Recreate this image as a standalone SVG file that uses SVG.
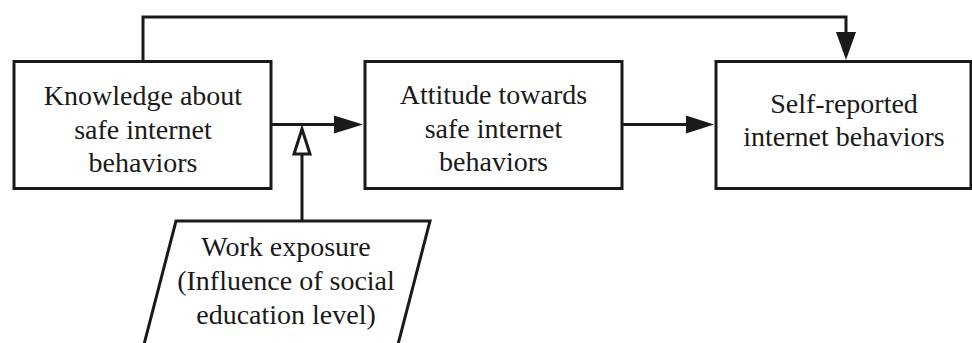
<svg xmlns="http://www.w3.org/2000/svg" width="972" height="343" viewBox="0 0 972 343">
<style>
.box{fill:#fff;stroke:#1a1a1a;stroke-width:3}
.ln{fill:none;stroke:#1a1a1a;stroke-width:3}
.ah{fill:#1a1a1a;stroke:none}
.oh{fill:#fff;stroke:#1a1a1a;stroke-width:3;stroke-linejoin:miter}
text{font-family:"Liberation Serif","Times New Roman",serif;font-size:28px;fill:#1a1a1a;text-anchor:middle}
</style>
<rect width="972" height="343" fill="#fff"/>
<g id="connectors">
<path class="ln" d="M143,61 V17 H846 V34"/>
<polygon class="ah" points="836,32 856,32 846,60"/>
<path class="ln" d="M271,124.5 H336"/>
<polygon class="ah" points="334,115.5 363,124.5 334,133.5"/>
<path class="ln" d="M622,124.5 H688"/>
<polygon class="ah" points="686,115.5 714,124.5 686,133.5"/>
<path class="ln" d="M302,221 V154"/>
<polygon class="oh" points="302,129 294,154 310,154"/>
</g>
<g id="knowledge">
<rect class="box" x="14" y="61.5" width="257" height="127"/>
<text x="143" y="105">Knowledge about</text>
<text x="143" y="138.5">safe internet</text>
<text x="143" y="172">behaviors</text>
</g>
<g id="attitude">
<rect class="box" x="365" y="61.5" width="257" height="127"/>
<text x="493.5" y="104">Attitude towards</text>
<text x="493.5" y="137.5">safe internet</text>
<text x="493.5" y="171">behaviors</text>
</g>
<g id="self-reported">
<rect class="box" x="716" y="61.5" width="255" height="127"/>
<text x="844" y="113">Self-reported</text>
<text x="844" y="146">internet behaviors</text>
</g>
<g id="work-exposure">
<polygon class="box" points="176,221 430,221 395,356 141,356"/>
<text x="286" y="256">Work exposure</text>
<text x="286" y="290">(Influence of social</text>
<text x="286" y="324">education level)</text>
</g>
</svg>
